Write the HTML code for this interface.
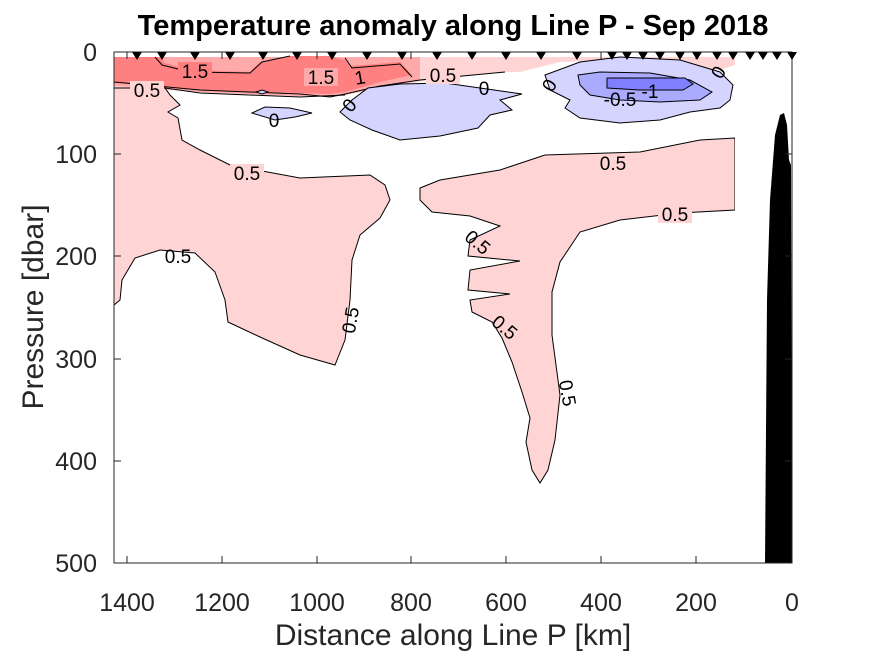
<!DOCTYPE html>
<html><head><meta charset="utf-8"><style>body{margin:0;background:#fff}svg{display:block}</style></head><body>
<svg width="875" height="656" viewBox="0 0 875 656" xmlns="http://www.w3.org/2000/svg" font-family="Liberation Sans, sans-serif">
<rect width="875" height="656" fill="#fff"/>
<!-- top band -->
<path d="M114,57 L735,57 L735,65 L720,70 L640,60 L560,62 L520,72 L505,72 L430,80 L380,88 L345,95 L300,97 L200,93 L165,88 L114,88 Z" fill="#ffd4d4"/>
<path d="M114,57 L420,57 L420,80 L380,88 L345,95 L330,97 L300,96 L200,92 L114,86 Z" fill="#ffaaaa"/>
<path d="M114,57 L160,57 L165,63 L190,70 L250,72 L260,62 L290,56 L330,56 L345,60 L350,66 L400,62 L412,75 L380,82 L345,92 L330,94 L300,93 L200,90 L114,83 Z" fill="#ff8080"/>
<path d="M114,82 L200,90 L300,94 L330,97 L345,94 L380,86 L420,80 L505,72" fill="none" stroke="#000" stroke-width="1"/>
<path d="M114,88 L165,88 L200,93 L300,97 L345,95" fill="none" stroke="#000" stroke-width="1"/>
<path d="M155,57 L162,65 L190,72 L250,73 L262,62 L290,56 M345,58 L352,68 L400,64 L412,77" fill="none" stroke="#000" stroke-width="1"/>
<!-- left pink -->
<path d="M114,88 L165,88 L170,95 L180,105 L168,112 L178,118 L182,140 L200,150 L230,165 L300,178 L370,175 L385,185 L390,200 L380,218 L360,235 L352,260 L350,300 L345,340 L335,365 L300,355 L260,337 L228,322 L225,300 L215,272 L195,253 L160,250 L135,258 L122,280 L120,300 L114,305 Z" fill="#ffd4d4" stroke="#000" stroke-width="1"/>
<!-- center pink -->
<path d="M735,138 L700,140 L640,152 L545,155 L500,170 L440,180 L420,188 L420,200 L432,212 L470,216 L500,226 L470,240 L468,256 L520,261 L470,270 L468,290 L510,294 L470,300 L472,312 L492,322 L502,338 L512,362 L522,392 L530,418 L526,442 L532,470 L540,483 L548,470 L555,440 L560,395 L552,335 L552,292 L560,262 L580,232 L620,220 L680,213 L735,210 Z" fill="#ffd4d4" stroke="#000" stroke-width="1"/>
<rect x="735" y="57" width="10" height="400" fill="#fff"/>
<!-- blue regions -->
<path d="M340,112 L352,100 L368,88 L400,84 L445,83 L480,88 L522,94 L500,100 L512,110 L490,115 L478,128 L440,136 L400,140 L372,130 L350,120 Z" fill="#d4d4ff" stroke="#000" stroke-width="1"/>
<path d="M252,113 L265,107 L290,108 L312,113 L295,117 L275,120 Z" fill="#d4d4ff" stroke="#000" stroke-width="1"/>
<path d="M256,92 L262,90 L268,92 L262,94 Z" fill="#d4d4ff" stroke="#000" stroke-width="1"/>
<path d="M545,75 L580,62 L620,57 L680,60 L720,72 L733,85 L730,100 L720,108 L690,112 L660,120 L620,123 L580,118 L565,108 L570,100 L550,90 Z" fill="#d4d4ff" stroke="#000" stroke-width="1"/>
<path d="M578,75 L600,72 L650,73 L690,80 L712,92 L700,100 L660,102 L620,100 L590,95 L580,85 Z" fill="#aaaaff" stroke="#000" stroke-width="1"/>
<path d="M607,78 L685,78 L693,84 L683,90 L640,90 L607,88 Z" fill="#8080ff" stroke="#000" stroke-width="1"/>
<!-- bathymetry -->
<path d="M765,563 L767,300 L770,200 L775,135 L780,115 L784,113 L787,125 L789,160 L791,165 L792,563 Z" fill="#000"/>
<!-- contour labels -->
<g font-size="19" fill="#000" text-anchor="middle">
<rect x="178" y="62" width="34" height="18" fill="#ff8080"/><text x="195" y="78">1.5</text>
<rect x="304" y="68" width="34" height="18" fill="#ffaaaa"/><text x="321" y="84">1.5</text>
<text x="360" y="84" transform="rotate(-10 360 78)">1</text>
<rect x="130" y="81" width="34" height="18" fill="#ffd4d4"/><text x="147" y="97">0.5</text>
<rect x="426" y="66" width="34" height="18" fill="#ffd4d4"/><text x="443" y="82">0.5</text>
<text x="484" y="95">0</text>
<text x="274" y="127">0</text>
<text x="349" y="112" transform="rotate(-50 349 105)">0</text>
<text x="549" y="92" transform="rotate(-60 549 85)">0</text>
<text x="718" y="79" transform="rotate(-60 718 72)">0</text>
<text x="620" y="106">-0.5</text>
<text x="650" y="98">-1</text>
<rect x="230" y="164" width="34" height="18" fill="#ffd4d4"/><text x="247" y="180">0.5</text>
<rect x="596" y="154" width="34" height="18" fill="#ffd4d4"/><text x="613" y="170">0.5</text>
<rect x="658" y="205" width="34" height="18" fill="#ffd4d4"/><text x="675" y="221">0.5</text>
<text x="178" y="263">0.5</text>
<text x="350" y="327" transform="rotate(-80 350 320)">0.5</text>
<text x="478" y="249" transform="rotate(40 478 242)">0.5</text>
<text x="505" y="334" transform="rotate(40 505 327)">0.5</text>
<text x="568" y="400" transform="rotate(80 568 393)">0.5</text>
</g>
<!-- axes -->
<rect x="114" y="52" width="678" height="511" fill="none" stroke="#262626" stroke-width="1"/>
<g stroke="#262626" stroke-width="1">
<line x1="127" y1="563" x2="127" y2="556"/><line x1="222" y1="563" x2="222" y2="556"/><line x1="317" y1="563" x2="317" y2="556"/><line x1="411" y1="563" x2="411" y2="556"/><line x1="506" y1="563" x2="506" y2="556"/><line x1="601" y1="563" x2="601" y2="556"/><line x1="696" y1="563" x2="696" y2="556"/>
<line x1="127" y1="52" x2="127" y2="59"/><line x1="222" y1="52" x2="222" y2="59"/><line x1="317" y1="52" x2="317" y2="59"/><line x1="411" y1="52" x2="411" y2="59"/><line x1="506" y1="52" x2="506" y2="59"/><line x1="601" y1="52" x2="601" y2="59"/><line x1="696" y1="52" x2="696" y2="59"/>
<line x1="114" y1="154" x2="121" y2="154"/><line x1="114" y1="256" x2="121" y2="256"/><line x1="114" y1="359" x2="121" y2="359"/><line x1="114" y1="461" x2="121" y2="461"/>
<line x1="792" y1="154" x2="785" y2="154"/><line x1="792" y1="256" x2="785" y2="256"/><line x1="792" y1="359" x2="785" y2="359"/><line x1="792" y1="461" x2="785" y2="461"/>
</g>
<!-- stations -->
<g fill="#000">
<path d="M-5,52 L5,52 L0,60 Z" transform="translate(137,0)"/>
<path d="M-5,52 L5,52 L0,60 Z" transform="translate(162,0)"/>
<path d="M-5,52 L5,52 L0,60 Z" transform="translate(195,0)"/>
<path d="M-5,52 L5,52 L0,60 Z" transform="translate(230,0)"/>
<path d="M-5,52 L5,52 L0,60 Z" transform="translate(263,0)"/>
<path d="M-5,52 L5,52 L0,60 Z" transform="translate(297,0)"/>
<path d="M-5,52 L5,52 L0,60 Z" transform="translate(332,0)"/>
<path d="M-5,52 L5,52 L0,60 Z" transform="translate(367,0)"/>
<path d="M-5,52 L5,52 L0,60 Z" transform="translate(402,0)"/>
<path d="M-5,52 L5,52 L0,60 Z" transform="translate(437,0)"/>
<path d="M-5,52 L5,52 L0,60 Z" transform="translate(472,0)"/>
<path d="M-5,52 L5,52 L0,60 Z" transform="translate(506,0)"/>
<path d="M-5,52 L5,52 L0,60 Z" transform="translate(541,0)"/>
<path d="M-5,52 L5,52 L0,60 Z" transform="translate(577,0)"/>
<path d="M-5,52 L5,52 L0,60 Z" transform="translate(612,0)"/>
<path d="M-5,52 L5,52 L0,60 Z" transform="translate(627,0)"/>
<path d="M-5,52 L5,52 L0,60 Z" transform="translate(643,0)"/>
<path d="M-5,52 L5,52 L0,60 Z" transform="translate(660,0)"/>
<path d="M-5,52 L5,52 L0,60 Z" transform="translate(680,0)"/>
<path d="M-5,52 L5,52 L0,60 Z" transform="translate(697,0)"/>
<path d="M-5,52 L5,52 L0,60 Z" transform="translate(717,0)"/>
<path d="M-5,52 L5,52 L0,60 Z" transform="translate(733,0)"/>
<path d="M-5,52 L5,52 L0,60 Z" transform="translate(750,0)"/>
<path d="M-5,52 L5,52 L0,60 Z" transform="translate(763,0)"/>
<path d="M-5,52 L5,52 L0,60 Z" transform="translate(777,0)"/>
<path d="M-5,52 L5,52 L0,60 Z" transform="translate(792,0)"/>
</g>
<!-- tick labels -->
<g font-size="25" fill="#262626">
<g text-anchor="end"><text x="97" y="61">0</text><text x="97" y="163">100</text><text x="97" y="265">200</text><text x="97" y="368">300</text><text x="97" y="470">400</text><text x="97" y="572">500</text></g>
<g text-anchor="middle"><text x="127" y="611">1400</text><text x="222" y="611">1200</text><text x="317" y="611">1000</text><text x="411" y="611">800</text><text x="506" y="611">600</text><text x="601" y="611">400</text><text x="696" y="611">200</text><text x="792" y="611">0</text></g>
<text x="453" y="645" text-anchor="middle" font-size="30">Distance along Line P [km]</text>
<text transform="translate(43 307) rotate(-90)" text-anchor="middle" font-size="30">Pressure [dbar]</text>
</g>
<text x="453" y="35" text-anchor="middle" font-size="29" font-weight="bold">Temperature anomaly along Line P - Sep 2018</text>
</svg>
</body></html>
